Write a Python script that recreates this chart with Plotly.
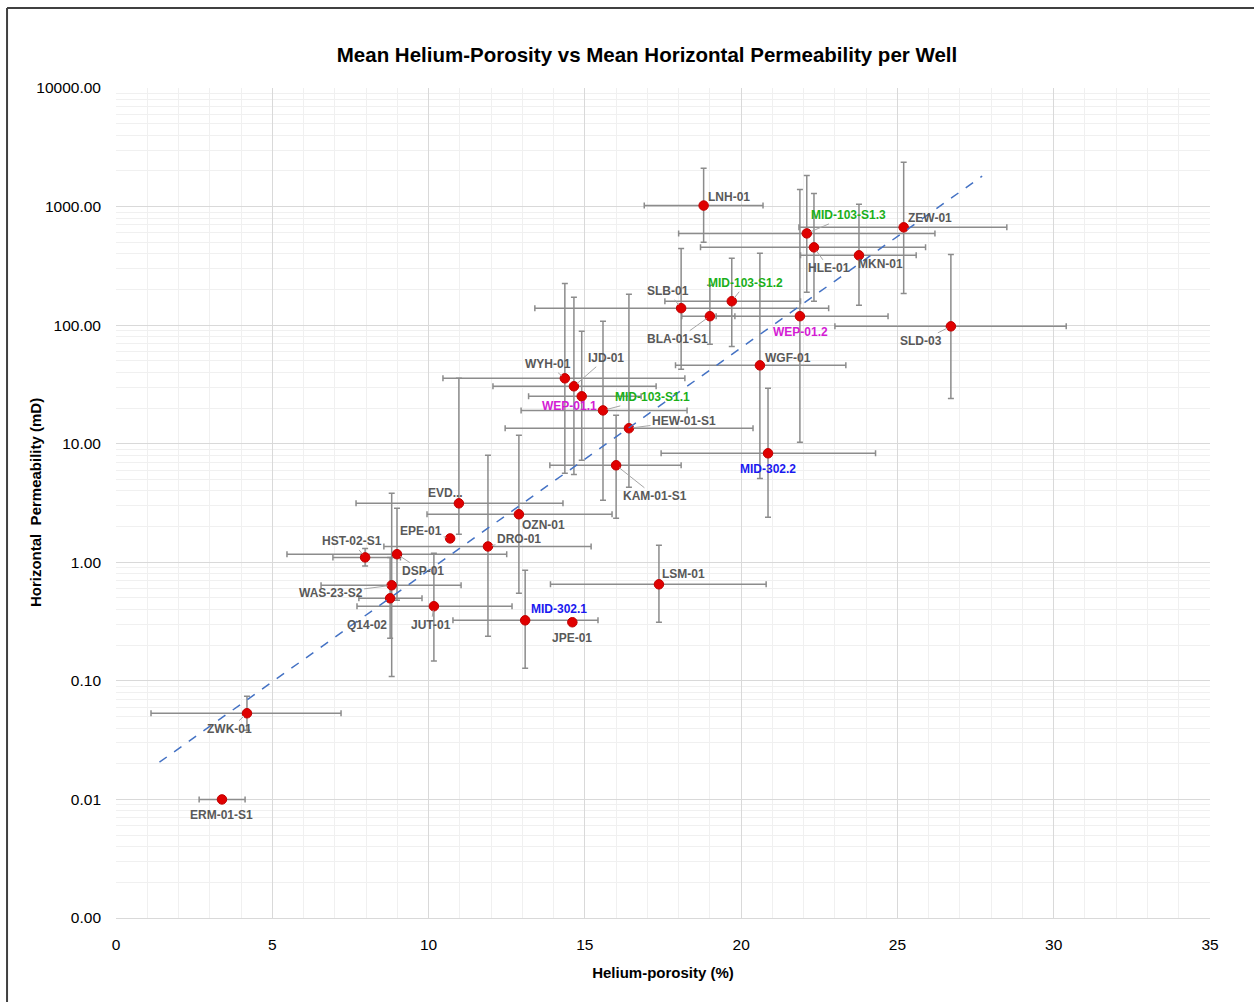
import numpy as np
import plotly.graph_objects as go

# ---------------- data ----------------
wells = ["LNH-01", "MID-103-S1.3", "ZEW-01", "HLE-01", "MKN-01", "SLB-01",
         "MID-103-S1.2", "BLA-01-S1", "WEP-01.2", "SLD-03", "WGF-01", "WYH-01",
         "IJD-01", "WEP-01.1", "MID-103-S1.1", "HEW-01-S1", "KAM-01-S1",
         "MID-302.2", "EVD...", "OZN-01", "EPE-01", "DRO-01", "HST-02-S1",
         "DSP-01", "WAS-23-S2", "Q14-02", "JUT-01", "MID-302.1", "JPE-01",
         "LSM-01", "ZWK-01", "ERM-01-S1"]
porosity = [18.8, 22.1, 25.2, 22.33, 23.77, 18.08, 19.7, 19.0, 21.88, 26.71,
            20.6, 14.36, 14.65, 14.9, 15.58, 16.41, 16.0, 20.86, 10.97, 12.89,
            10.69, 11.9, 7.97, 8.99, 8.82, 8.77, 10.17, 13.09, 14.6, 17.37,
            4.19, 3.39]
perm = [1020, 594, 668, 453, 388, 139, 159, 119, 119, 97.7, 45.8, 35.6, 30.5,
        25.1, 19.1, 13.5, 6.58, 8.3, 3.14, 2.54, 1.59, 1.36, 1.10, 1.17, 0.64,
        0.497, 0.426, 0.324, 0.312, 0.652, 0.0533, 0.01]
por_low = [16.9, 18.0, 21.85, 18.7, 21.9, 13.4, 17.56, 18.1, 19.2, 23.0, 17.9,
           10.46, 12.06, 13.2, 12.96, 12.45, 13.88, 17.44, 7.68, 9.95, None,
           8.57, 6.94, 5.47, 6.56, 7.77, 7.71, 10.78, None, 13.9, 1.12, 2.66]
por_high = [20.7, 26.2, 28.5, 25.9, 25.6, 22.8, 21.9, 19.8, 24.7, 30.4, 23.35,
            18.2, 17.28, 16.8, 18.27, 20.38, 18.08, 24.3, 14.3, 15.87, None,
            15.2, 9.1, 12.5, 11.04, 9.79, 12.67, 15.42, None, 20.8, 7.2, 4.13]
perm_low = [500, 189, 185, 159, 147, 42.4, 66, 69, 10.3, 24.1, 5.1, 5.63, 5.5,
            7.24, 3.33, 4.29, 2.35, 2.4, 1.72, 0.548, None, 0.238, 0.93, 0.478,
            0.109, 0.229, 0.147, 0.128, None, 0.312, 0.0383, None]
perm_high = [2100, 1830, 2360, 1290, 1044, 444, 366, 217, 1396, 395, 403, 225,
             172, 88.7, 108, 182, 17.4, 29.3, 35.6, 11.8, None, 7.98, 1.31,
             2.85, 3.82, 1.1, 1.19, 0.856, None, 1.39, 0.0741, None]

y_tick_vals = [0.001, 0.01, 0.1, 1, 10, 100, 1000, 10000]
y_tick_text = ["0.00", "0.01", "0.10", "1.00", "10.00", "100.00", "1000.00", "10000.00"]
x_tick_vals = [0, 5, 10, 15, 20, 25, 30, 35]

# ---------------- label styling (layout, not data) ----------------
GRAY = "#595959"
label_color = {"MID-103-S1.3": "#1AAF1A", "MID-103-S1.2": "#1AAF1A",
               "MID-103-S1.1": "#1AAF1A", "WEP-01.2": "#D41CD4",
               "WEP-01.1": "#D41CD4", "MID-302.2": "#1A1AF0",
               "MID-302.1": "#1A1AF0"}
# pixel offsets of label centre from point, and whether a leader line is drawn
label_offset = {
    "LNH-01": (25, -9, False), "MID-103-S1.3": (42, -18, True),
    "ZEW-01": (26, -9, False), "HLE-01": (15, 21, True),
    "MKN-01": (22, 9, False), "SLB-01": (-13, -17, True),
    "MID-103-S1.2": (14, -18, True), "BLA-01-S1": (-32, 23, True),
    "WEP-01.2": (1, 16, False), "SLD-03": (-30, 15, True),
    "WGF-01": (28, -7, False), "WYH-01": (-17, -14, True),
    "IJD-01": (32, -28, True), "WEP-01.1": (-12, 10, False),
    "MID-103-S1.1": (50, -13, True), "HEW-01-S1": (55, -7, True),
    "KAM-01-S1": (39, 31, True), "MID-302.2": (0, 16, False),
    "EVD...": (-13, -10, False), "OZN-01": (25, 11, False),
    "EPE-01": (-29, -7, True), "DRO-01": (31, -7, True),
    "HST-02-S1": (-13, -16, True), "DSP-01": (26, 17, True),
    "WAS-23-S2": (-61, 8, True), "Q14-02": (-23, 27, False),
    "JUT-01": (-3, 19, True), "MID-302.1": (34, -11, False),
    "JPE-01": (0, 16, False), "LSM-01": (25, -10, False),
    "ZWK-01": (-17, 16, True), "ERM-01-S1": (0, 16, False),
}

# ---------------- error bar arrays ----------------
def err(vals, lo, hi):
    plus = [(h - v) if h is not None else 0 for v, h in zip(vals, hi)]
    minus = [(v - l) if l is not None else 0 for v, l in zip(vals, lo)]
    return plus, minus

ex_p, ex_m = err(porosity, por_low, por_high)
ey_p, ey_m = err(perm, perm_low, perm_high)

fig = go.Figure()

# exponential trendline (least squares on ln y), with backward/forward forecast
xa = np.array(porosity)
ya = np.log(np.array(perm))
b, a = np.polyfit(xa, ya, 1)
tx = np.linspace(xa.min() - 2.0, xa.max() + 1.0, 50)
ty = np.exp(a + b * tx)

fig.add_trace(go.Scatter(
    x=porosity, y=perm, mode="markers",
    marker=dict(color="#E00000", size=9.5, line=dict(color="#C00000", width=1)),
    error_x=dict(type="data", symmetric=False, array=ex_p, arrayminus=ex_m,
                 color="#8C8C8C", thickness=1.5, width=3),
    error_y=dict(type="data", symmetric=False, array=ey_p, arrayminus=ey_m,
                 color="#8C8C8C", thickness=1.5, width=3),
    hovertext=wells, showlegend=False))

fig.add_trace(go.Scatter(
    x=tx, y=ty, mode="lines",
    line=dict(color="#4472C4", width=1.5, dash="dash"),
    showlegend=False, hoverinfo="skip"))

for w, xv, yv in zip(wells, porosity, perm):
    dx, dy, leader = label_offset[w]
    fig.add_annotation(
        x=xv, y=np.log10(yv), xref="x", yref="y",
        text=f"<b>{w}</b>", showarrow=True, ax=dx, ay=dy,
        arrowhead=0, arrowwidth=1, standoff=4,
        arrowcolor="#A6A6A6" if leader else "rgba(0,0,0,0)",
        font=dict(family="Liberation Sans, Arial, sans-serif", size=12,
                  color=label_color.get(w, GRAY)))

# y-axis title placed like the original
fig.add_annotation(x=-0.074, y=0.5, xref="paper", yref="paper",
                   text="<b>Horizontal  Permeability (mD)</b>", textangle=-90,
                   showarrow=False, xanchor="center", yanchor="middle",
                   font=dict(size=15, color="#000000"))

# chart outline (top and left visible)
fig.add_shape(type="line", xref="paper", yref="paper", x0=-0.0996, x1=1.1,
              y0=1.0964, y1=1.0964, line=dict(color="#404040", width=2))
fig.add_shape(type="line", xref="paper", yref="paper", x0=-0.0996, x1=-0.0996,
              y0=-0.2, y1=1.0964, line=dict(color="#404040", width=2))

fig.update_layout(
    width=1254, height=1002,
    margin=dict(l=116, r=44, t=88, b=84),
    paper_bgcolor="white", plot_bgcolor="white",
    font=dict(family="Liberation Sans, Arial, sans-serif", color="#000000"),
    title=dict(text="<b>Mean Helium-Porosity vs Mean Horizontal Permeability per Well</b>",
               x=647 / 1254, xanchor="center", y=1 - 55 / 1002, yanchor="middle",
               font=dict(size=20.5, color="#000000")),
    xaxis=dict(range=[0, 35], tickvals=x_tick_vals,
               showgrid=True, gridcolor="#D9D9D9", gridwidth=1,
               minor=dict(dtick=1, showgrid=True, gridcolor="#F0F0F0", gridwidth=1),
               showline=True, linecolor="#D9D9D9", linewidth=1,
               zeroline=False, ticks="", ticklabelstandoff=12,
               tickfont=dict(size=15.5, color="#000000"),
               title=dict(text="<b>Helium-porosity (%)</b>", standoff=15,
                          font=dict(size=15))),
    yaxis=dict(type="log", range=[-3, 4], tickvals=y_tick_vals,
               ticktext=y_tick_text,
               showgrid=True, gridcolor="#D9D9D9", gridwidth=1,
               minor=dict(tickvals=[m * 10.0 ** e for e in range(-3, 4) for m in range(2, 10)],
                          showgrid=True, gridcolor="#F0F0F0", gridwidth=1),
               showline=False, zeroline=False, ticks="", ticklabelstandoff=14,
               tickfont=dict(size=15.5, color="#000000")),
)

fig.write_html("out.html")
